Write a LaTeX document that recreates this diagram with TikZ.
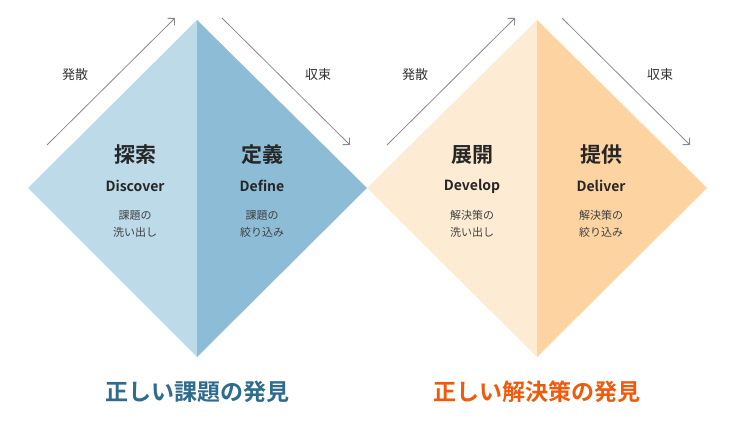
\documentclass[tikz,border=0pt]{standalone}
\usepackage{fontspec}
\setmainfont{Noto Sans CJK JP}
\newfontfamily\jpbold{Noto Sans CJK JP Bold}
\usetikzlibrary{arrows.meta}
\definecolor{bluelight}{HTML}{BCDAE8}
\definecolor{bluedark}{HTML}{8DBDD6}
\definecolor{orlight}{HTML}{FEEBD3}
\definecolor{ordark}{HTML}{FDD3A1}
\definecolor{bluetitle}{HTML}{2F6B8C}
\definecolor{ortitle}{HTML}{EF5A0C}
\definecolor{arrowgray}{HTML}{8A8A8A}
\tikzset{
  phase/.style={font=\jpbold\fontsize{21}{23}\selectfont, text=black!85},
  eng/.style={font=\jpbold\fontsize{14}{16}\selectfont, text=black!85},
  note/.style={font=\fontsize{11}{17}\selectfont, text=black!75, align=center},
  side/.style={font=\fontsize{13}{15}\selectfont, text=black!80},
  title/.style={font=\jpbold\fontsize{23}{25}\selectfont},
  flow/.style={draw=arrowgray, line width=0.8pt, -{Straight Barb[length=5pt]}}
}
\begin{document}
\begin{tikzpicture}[x=1pt,y=-1pt]
    \useasboundingbox (0,0) rectangle (749,430);
    % diamonds
    \fill[bluelight] (28,188) -- (197,20) -- (197,357) -- cycle;
    \fill[bluedark] (197,20) -- (367,188) -- (197,357) -- cycle;
    \fill[orlight] (367,188) -- (537,20) -- (537,357) -- cycle;
    \fill[ordark] (537,20) -- (707,188) -- (537,357) -- cycle;
    % arrows
    \coordinate (a1s) at (47,145); \coordinate (a1e) at (175,18);
    \coordinate (a2s) at (222,18); \coordinate (a2e) at (350,145);
    \coordinate (a3s) at (387,145); \coordinate (a3e) at (515,18);
    \coordinate (a4s) at (562,18); \coordinate (a4e) at (690,145);
    \draw[flow] (a1s) -- (a1e);
    \draw[flow] (a2s) -- (a2e);
    \draw[flow] (a3s) -- (a3e);
    \draw[flow] (a4s) -- (a4e);
    \node[side] (div1) at (75,75) {発散};
    \node[side] (con1) at (318,75) {収束};
    \node[side] (div2) at (415,75) {発散};
    \node[side] (con2) at (660,75) {収束};
    % phases
    \node[phase] (discover) at (135,155) {探索};
    \node[eng] (discoverEn) at (135,186) {Discover};
    \node[note] (discoverNote) at (135,224) {課題の\\洗い出し};
    \node[phase] (define) at (262,155) {定義};
    \node[eng] (defineEn) at (262,186) {Define};
    \node[note] (defineNote) at (262,224) {課題の\\絞り込み};
    \node[phase] (develop) at (472,155) {展開};
    \node[eng] (developEn) at (472,186) {Develop};
    \node[note] (developNote) at (472,224) {解決策の\\洗い出し};
    \node[phase] (deliver) at (601,155) {提供};
    \node[eng] (deliverEn) at (601,186) {Deliver};
    \node[note] (deliverNote) at (601,224) {解決策の\\絞り込み};
    % titles
    \node[title, text=bluetitle] (problem) at (197,392) {正しい課題の発見};
    \node[title, text=ortitle] (solution) at (537,392) {正しい解決策の発見};
\end{tikzpicture}
\end{document}
